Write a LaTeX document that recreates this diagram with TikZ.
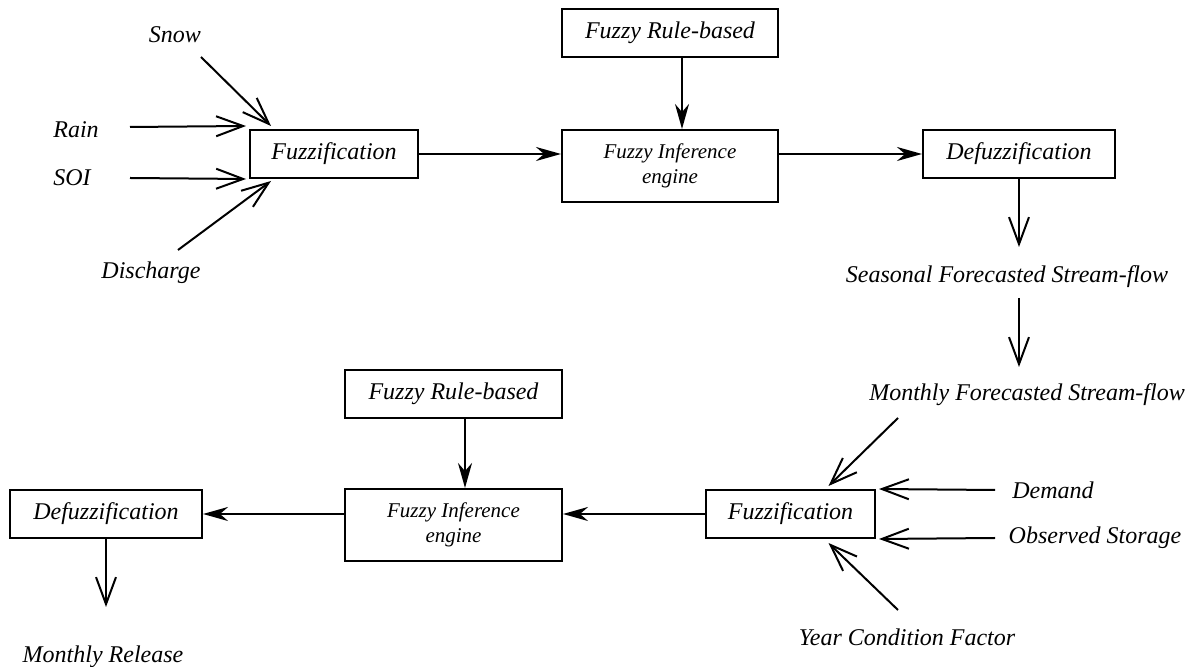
\documentclass[tikz,border=0pt]{standalone}
\usepackage{fontspec}
\setmainfont{Liberation Serif}
\usetikzlibrary{arrows.meta}
\begin{document}
\begin{tikzpicture}[x=0.5pt,y=-0.5pt,
  box/.style={draw,line width=1pt,inner sep=0pt,font=\itshape\fontsize{12}{14}\selectfont},
  infbox/.style={draw,line width=1pt,inner sep=0pt,align=center,font=\itshape\fontsize{10.5}{12.5}\selectfont},
  lbl/.style={inner sep=0pt,font=\itshape\fontsize{12}{14}\selectfont},
  feed/.style={-{Straight Barb[length=13.5pt,width=10pt]},line width=1pt},
  flow/.style={-{Stealth[length=12.5pt,width=7pt,inset=4pt]},line width=1pt}]
\useasboundingbox (0,0) rectangle (1195,667);
% top row
\node[box,minimum width=84pt,minimum height=24pt] (fz1) at (334,154) {Fuzzification};
\node[box,minimum width=108pt,minimum height=24pt] (rb1) at (670,33) {Fuzzy Rule-based};
\node[infbox,minimum width=108pt,minimum height=36pt] (inf1) at (670,166) {Fuzzy Inference\\engine};
\node[box,minimum width=96pt,minimum height=24pt] (df1) at (1019,154) {Defuzzification};
% inputs top
\node[lbl] (snow) at (175,35) {Snow};
\node[lbl] (rain) at (76,130) {Rain};
\node[lbl] (soi) at (72,178) {SOI};
\node[lbl] (dis) at (151,273) {Discharge};
\coordinate (snowS) at (201,57);
\coordinate (rainS) at (130,127);
\coordinate (soiS) at (130,178);
\coordinate (disS) at (178,250);
\draw[feed] (snowS) -- ([xshift=11pt,yshift=1.5pt]fz1.north west);
\draw[feed] (rainS) -- ([xshift=-1.5pt,yshift=1.5pt]fz1.north west);
\draw[feed] (soiS) -- ([xshift=-1.5pt]fz1.south west);
\draw[feed] (disS) -- ([xshift=11pt,yshift=-1pt]fz1.south west);
\draw[flow] (fz1.east) -- (fz1.east -| inf1.west);
\draw[flow] ([xshift=6pt]rb1.south) -- ([xshift=6pt]inf1.north);
\draw[flow] (inf1.east |- fz1.east) -- (df1.west);
% outputs
\node[lbl] (sea) at (1007,277) {Seasonal Forecasted Stream-flow};
\node[lbl] (mon) at (1027,395) {Monthly Forecasted Stream-flow};
\draw[feed] (df1.south) -- (df1.south |- 0,247);
\coordinate (seaS) at (1019,298);
\draw[feed] (seaS) -- (seaS |- 0,367);
% bottom row
\node[box,minimum width=84.5pt,minimum height=24pt] (fz2) at (790.5,514) {Fuzzification};
\node[box,minimum width=108.5pt,minimum height=24pt] (rb2) at (453.5,394) {Fuzzy Rule-based};
\node[infbox,minimum width=108.5pt,minimum height=36pt] (inf2) at (453.5,525) {Fuzzy Inference\\engine};
\node[box,minimum width=96pt,minimum height=24pt] (df2) at (106,514) {Defuzzification};
\node[lbl] (dem) at (1053,490) {Demand};
\node[lbl] (obs) at (1095,538) {Observed Storage};
\node[lbl] (ycf) at (907,637) {Year Condition Factor};
\node[lbl] (rel) at (103,657) {Monthly Release};
\coordinate (monS) at (898,418);
\coordinate (demS) at (995,490);
\coordinate (obsS) at (995,538);
\coordinate (ycfS) at (898,610);
\draw[feed] (monS) -- ([xshift=19pt,yshift=1.5pt]fz2.north);
\draw[feed] (demS) -- ([xshift=1.5pt]fz2.north east);
\draw[feed] (obsS) -- ([xshift=1.5pt]fz2.south east);
\draw[feed] (ycfS) -- ([xshift=19pt,yshift=-2pt]fz2.south);
\draw[flow] (fz2.west) -- (fz2.west -| inf2.east);
\draw[flow] ([xshift=5.75pt]rb2.south) -- ([xshift=5.75pt]inf2.north);
\draw[flow] (inf2.west |- df2.east) -- (df2.east);
\draw[feed] (df2.south) -- (df2.south |- 0,607);
\end{tikzpicture}
\end{document}
